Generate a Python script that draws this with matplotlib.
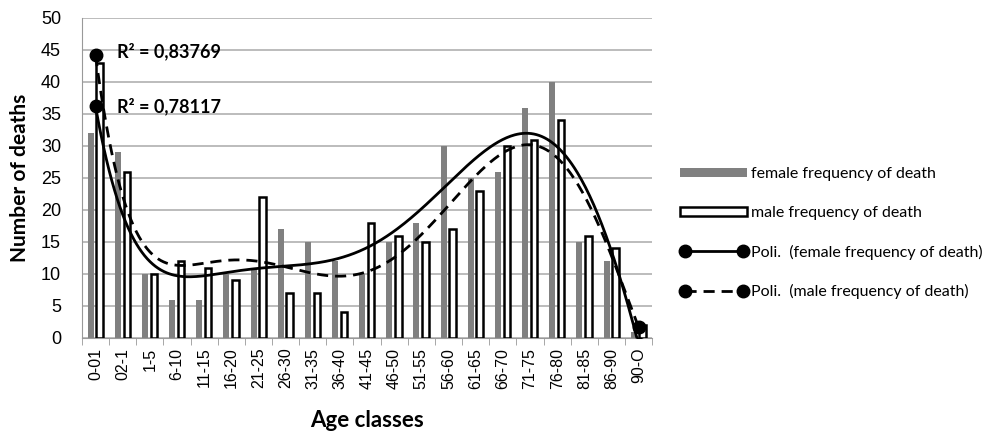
import numpy as np
import matplotlib
matplotlib.use("Agg")
import matplotlib.pyplot as plt
from matplotlib.lines import Line2D
from matplotlib.patches import Patch

# Data
age_classes = ['0-01', '02-1', '1-5', '6-10', '11-15', '16-20', '21-25', '26-30', '31-35', '36-40',
               '41-45', '46-50', '51-55', '56-60', '61-65', '66-70', '71-75', '76-80', '81-85', '86-90', '90-O']
female = [32, 29, 10, 6, 6, 10, 11, 17, 15, 12, 10, 15, 18, 30, 25, 26, 36, 40, 15, 12, 1]
male = [43, 26, 10, 12, 11, 9, 22, 7, 7, 4, 18, 16, 15, 17, 23, 30, 31, 34, 16, 14, 2]
r2_labels = ['R² = 0,83769', 'R² = 0,78117']

plt.rcParams['font.family'] = ['Lato', 'DejaVu Sans']

fig = plt.figure(figsize=(9.91, 4.36), dpi=100)
ax = fig.add_axes([0.0827, 0.2248, 0.5754, 0.734])

x = np.arange(len(age_classes))

# bars
ax.bar(x - 0.18, female, width=0.22, color='#808080', zorder=2)
ax.bar(x + 0.15, male, width=0.24, color='white', edgecolor='black', linewidth=1.8, zorder=3)

# polynomial trend lines (6th order, like Excel "Poli.")
xs = np.linspace(0, len(age_classes) - 1, 400)
cf = np.polyfit(x + 1, female, 6)
cm = np.polyfit(x + 1, male, 6)
yf = np.polyval(cf, xs + 1)
ym = np.polyval(cm, xs + 1)
ax.plot(xs, yf, color='black', lw=2, zorder=4)
ax.plot(xs, ym, color='black', lw=2, ls=(0, (4, 2.5)), zorder=4)
for ys in (yf, ym):
    ax.plot([xs[0], xs[-1]], [ys[0], ys[-1]], 'o', color='black', ms=9, zorder=5)

ax.text(0.8, ym[0] + 0.6, r2_labels[0], fontsize=13, fontweight='bold', va='center', zorder=6)
ax.text(0.8, yf[0], r2_labels[1], fontsize=13, fontweight='bold', va='center', zorder=6)

ax.set_xlim(-0.5, len(age_classes) - 0.5)
ax.set_ylim(0, 50)
ax.set_yticks(range(0, 51, 5))
ax.set_xticks(x)
ax.set_xticklabels(age_classes, rotation=90, fontsize=11.5, family='Liberation Sans')
for lab in ax.get_yticklabels():
    lab.set_family('Liberation Sans')
    lab.set_fontsize(13)
ax.tick_params(axis='x', length=0, pad=7)
ax.tick_params(axis='y', length=0, pad=15)
ax.set_xticks(np.arange(-0.5, len(age_classes), 1), minor=True)
ax.tick_params(axis='x', which='minor', length=5, color='#999999')

ax.grid(axis='y', color='#b0b0b0', lw=1.2, zorder=0)
ax.set_axisbelow(True)
for s in ['top', 'right']:
    ax.spines[s].set_visible(False)
ax.spines['left'].set_color('#999999')
ax.spines['bottom'].set_color('#999999')

ax.set_ylabel('Number of deaths', fontsize=15, fontweight='bold', labelpad=8)
ax.set_xlabel('Age classes', fontsize=16, fontweight='bold', labelpad=15)

handles = [
    Patch(facecolor='#808080', edgecolor='none'),
    Patch(facecolor='white', edgecolor='black', linewidth=1.8),
    Line2D([0, 1], [0, 0], color='black', lw=2, marker='o', ms=9),
    Line2D([0, 1], [0, 0], color='black', lw=2, ls=(0, (4, 2.5)), marker='o', ms=9),
]
labels = ['female frequency of death', 'male frequency of death',
          'Poli.  (female frequency of death)', 'Poli.  (male frequency of death)']
fig.legend(handles, labels, loc='upper left', bbox_to_anchor=(0.672, 0.65), frameon=False,
           fontsize=11.5, handlelength=4.2, handleheight=0.5, labelspacing=1.55, handletextpad=0.2,
           numpoints=2)

fig.savefig('out.png', dpi=100)
